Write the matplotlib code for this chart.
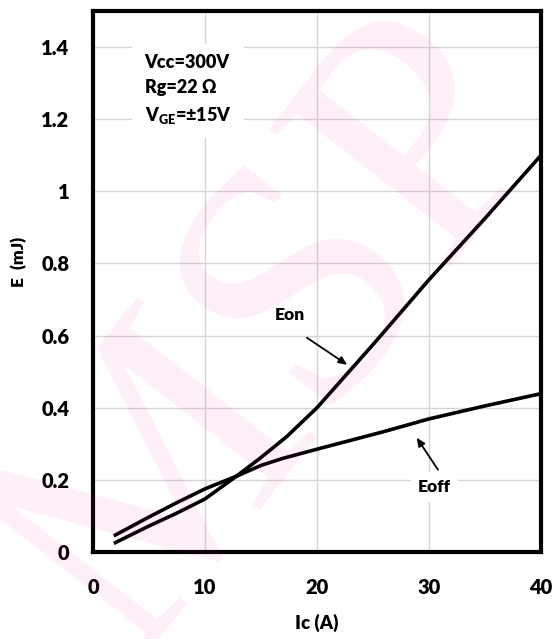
import numpy as np
import matplotlib
matplotlib.use('Agg')
import matplotlib.pyplot as plt

plt.rcParams['font.family'] = ['Lato', 'DejaVu Sans']
plt.rcParams['font.weight'] = 'heavy'
plt.rcParams['axes.labelweight'] = 'heavy'
plt.rcParams['mathtext.fontset'] = 'custom'
plt.rcParams['mathtext.rm'] = 'Lato:heavy'
plt.rcParams['mathtext.bf'] = 'Lato:heavy'

ic_on = [2, 5, 7.5, 10, 12.8, 15, 17.3, 20, 25, 30, 35, 40]
e_on = [0.026, 0.072, 0.108, 0.147, 0.21, 0.262, 0.32, 0.40, 0.575, 0.755, 0.925, 1.10]

ic_off = [2, 5, 7.5, 10, 12.8, 15, 17, 20, 26, 30, 35, 40]
e_off = [0.047, 0.097, 0.137, 0.175, 0.21, 0.24, 0.26, 0.285, 0.334, 0.369, 0.405, 0.439]

x_ticks = [0, 10, 20, 30, 40]
y_ticks = [0, 0.2, 0.4, 0.6, 0.8, 1.0, 1.2, 1.4]
y_tick_labels = ['0', '0.2', '0.4', '0.6', '0.8', '1', '1.2', '1.4']

fig = plt.figure(figsize=(5.55, 6.39), dpi=100)
ax = fig.add_axes([0.1676, 0.1362, 0.8072, 0.8466])

ax.plot(ic_on, e_on, color='black', lw=2.6, solid_joinstyle='round', zorder=3)
ax.plot(ic_off, e_off, color='black', lw=2.6, solid_joinstyle='round', zorder=3)

ax.set_xlim(0, 40)
ax.set_ylim(0, 1.5)
ax.set_xticks(x_ticks)
ax.set_yticks(y_ticks)
ax.set_yticklabels(y_tick_labels)
ax.tick_params(length=0, labelsize=14.5)
ax.tick_params(axis='x', pad=19)
ax.tick_params(axis='y', pad=17)
ax.grid(True, color='#d4d4d4', lw=1.0)
ax.set_axisbelow(True)
for s in ax.spines.values():
    s.set_linewidth(3.0)
    s.set_color('black')

ax.set_xlabel('Ic (A)', fontsize=13.5, fontweight='heavy', labelpad=12)
ax.set_ylabel('E  (mJ)', fontsize=12.5, fontweight='heavy', va='center')
ax.yaxis.set_label_coords(-0.165, 0.536)

box = dict(boxstyle='square,pad=0.7', fc='white', ec='none')
ax.text(4.6, 1.38, 'Vcc=300V\nRg=22 Ω\nV$_{\\mathbf{GE}}$=±15V', fontsize=13,
        va='top', ha='left', linespacing=1.55, bbox=box, zorder=4)

ax.text(17.6, 0.656, 'Eon', fontsize=12.5, ha='center', va='center',
        bbox=dict(boxstyle='square,pad=0.4', fc='white', ec='none'), zorder=4)
ax.annotate('', xy=(22.7, 0.519), xytext=(19.1, 0.594),
            arrowprops=dict(arrowstyle='-|>,head_length=0.5,head_width=0.22', lw=1.3,
                            color='black', shrinkA=0, shrinkB=0), zorder=5)

ax.text(30.5, 0.18, 'Eoff', fontsize=12.5, ha='center', va='center',
        bbox=dict(boxstyle='square,pad=0.4', fc='white', ec='none'), zorder=4)
ax.annotate('', xy=(28.9, 0.317), xytext=(30.8, 0.228),
            arrowprops=dict(arrowstyle='-|>,head_length=0.5,head_width=0.22', lw=1.3,
                            color='black', shrinkA=0, shrinkB=0), zorder=5)

# faint watermark
fig.text(0.5, 0.47, 'MSP', fontsize=250, family='Liberation Serif', fontweight='normal',
         color='#ff1aa8', alpha=0.07, rotation=52, ha='center', va='center', zorder=10)

fig.savefig('out.png', dpi=100)
